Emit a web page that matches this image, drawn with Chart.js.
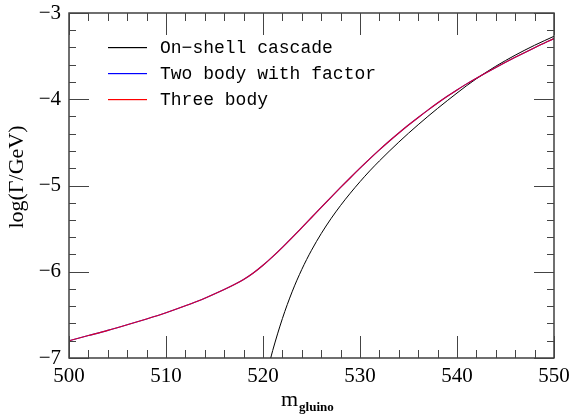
<!DOCTYPE html>
<html lang="en">
	<head>
		<meta charset="UTF-8" />
		<title>Gluino decay width</title>
		<script src="https://cdn.jsdelivr.net/npm/chart.js@4.4.3/dist/chart.umd.min.js"></script>
		<style>
			body {
				margin: 0;
				background: #fff;
			}
			.chartContainer {
				width: 572px;
				height: 415px;
			}
		</style>
	</head>
	<body>
		<div class="chartContainer">
			<canvas id="widthChart"></canvas>
		</div>

		<script>
			// gluino mass (GeV) and log10 of width
			const massShell = [520.75, 521, 522, 523, 524, 525, 526, 527, 528, 529, 530, 531, 532, 533, 534, 535, 536, 537, 538, 539, 540, 541, 542, 544, 546, 548, 550];
			const logShell = [-7.02, -6.913, -6.543, -6.233, -5.973, -5.751, -5.558, -5.386, -5.231, -5.089, -4.956, -4.831, -4.715, -4.604, -4.497, -4.394, -4.295, -4.199, -4.106, -4.016, -3.928, -3.842, -3.762, -3.617, -3.489, -3.374, -3.27];

			const massTwoBody = [500, 502, 504, 506, 508, 510, 512, 514, 516, 517, 518, 519, 520, 521, 522, 523, 524, 525, 526, 527, 528, 529, 530, 531, 532, 533, 534, 535, 536, 537, 538, 539, 540, 541, 542, 544, 546, 548, 550];
			const logTwoBody = [-6.8, -6.74, -6.68, -6.615, -6.547, -6.475, -6.395, -6.307, -6.207, -6.152, -6.09, -6.015, -5.925, -5.825, -5.717, -5.604, -5.488, -5.371, -5.254, -5.138, -5.023, -4.91, -4.799, -4.691, -4.587, -4.487, -4.391, -4.299, -4.211, -4.126, -4.044, -3.966, -3.892, -3.822, -3.756, -3.632, -3.514, -3.402, -3.296];

			const massThreeBody = [500, 502, 504, 506, 508, 510, 512, 514, 516, 517, 518, 519, 520, 521, 522, 523, 524, 525, 526, 527, 528, 529, 530, 531, 532, 533, 534, 535, 536, 537, 538, 539, 540, 541, 542, 544, 546, 548, 550];
			const logThreeBody = [-6.8, -6.74, -6.68, -6.615, -6.547, -6.475, -6.395, -6.307, -6.207, -6.152, -6.09, -6.015, -5.925, -5.825, -5.717, -5.604, -5.488, -5.371, -5.254, -5.138, -5.023, -4.91, -4.799, -4.691, -4.587, -4.487, -4.391, -4.299, -4.211, -4.126, -4.044, -3.966, -3.892, -3.822, -3.756, -3.632, -3.514, -3.402, -3.296];

			const seriesLabels = ["On\u2212shell cascade", "Two body with factor", "Three body"];
			const seriesColors = ["#000000", "#0000ff", "#ff0000"];
			const xTicks = [500, 510, 520, 530, 540, 550];
			const yTicks = [-7, -6, -5, -4, -3];
			const yTitle = "log(\u0393/GeV)";

			const toPoints = (xs, ys) => xs.map((v, i) => ({ x: v, y: ys[i] }));

			// frame with inward ticks, legend and axis titles
			const framePlugin = {
				id: "frame",
				afterDraw(chart) {
					const { ctx, chartArea: a, scales } = chart;
					const x = scales.x;
					const y = scales.y;
					ctx.save();
					ctx.strokeStyle = "#333";
					ctx.lineWidth = 1.4;
					ctx.strokeRect(a.left, a.top, a.right - a.left, a.bottom - a.top);

					ctx.strokeStyle = "#444";
					ctx.lineWidth = 1;
					ctx.beginPath();
					for (let i = 0; i <= 25; i++) {
						const v = 500 + i * 2;
						const px = Math.round(x.getPixelForValue(v)) + 0.5;
						const len = i % 5 === 0 ? 22 : 8;
						ctx.moveTo(px, a.bottom);
						ctx.lineTo(px, a.bottom - len);
						ctx.moveTo(px, a.top);
						ctx.lineTo(px, a.top + len);
					}
					for (let i = 0; i <= 20; i++) {
						const v = -7 + i * 0.2;
						const py = Math.round(y.getPixelForValue(v)) + 0.5;
						const len = i % 5 === 0 ? 20 : 7;
						ctx.moveTo(a.left, py);
						ctx.lineTo(a.left + len, py);
						ctx.moveTo(a.right, py);
						ctx.lineTo(a.right - len, py);
					}
					ctx.stroke();

					// legend
					ctx.font = "18px 'Liberation Mono'";
					ctx.textBaseline = "middle";
					seriesLabels.forEach((label, i) => {
						const ly = 47 + i * 26;
						ctx.fillStyle = seriesColors[i];
						ctx.fillRect(108, ly, 39, 1.2);
						ctx.fillStyle = "#000";
						ctx.fillText(label, 160, ly + 1);
					});

					// x title with subscript
					ctx.textBaseline = "alphabetic";
					ctx.font = "22px 'Liberation Serif'";
					ctx.fillText("m", 281, 406);
					const mw = ctx.measureText("m").width;
					ctx.font = "bold 13px 'Liberation Serif'";
					ctx.fillText("gluino", 282 + mw, 411);

					// y title
					ctx.translate(17, 177);
					ctx.rotate(-Math.PI / 2);
					ctx.textAlign = "center";
					ctx.textBaseline = "middle";
					ctx.font = "22px 'Liberation Serif'";
					ctx.fillText(yTitle, 0, 0);
					ctx.restore();
				},
			};

			const ctx = document.getElementById("widthChart").getContext("2d");
			const widthChart = new Chart(ctx, {
				type: "line",
				data: {
					datasets: [
						{
							label: seriesLabels[0],
							data: toPoints(massShell, logShell),
							borderColor: seriesColors[0],
							borderWidth: 1,
							pointRadius: 0,
							cubicInterpolationMode: "monotone",
							order: 3,
						},
						{
							label: seriesLabels[1],
							data: toPoints(massTwoBody, logTwoBody),
							borderColor: seriesColors[1],
							borderWidth: 1.1,
							pointRadius: 0,
							cubicInterpolationMode: "monotone",
							order: 2,
						},
						{
							label: seriesLabels[2],
							data: toPoints(massThreeBody, logThreeBody),
							borderColor: "rgba(255, 0, 0, 0.85)",
							borderWidth: 1.1,
							pointRadius: 0,
							cubicInterpolationMode: "monotone",
							order: 1,
						},
					],
				},
				options: {
					responsive: true,
					maintainAspectRatio: false,
					animation: false,
					layout: {
						padding: { left: 0, top: 13, right: 18, bottom: 0 },
					},
					plugins: {
						legend: { display: false },
						tooltip: { enabled: false },
					},
					scales: {
						x: {
							type: "linear",
							min: 500,
							max: 550,
							afterBuildTicks: (scale) => {
								scale.ticks = xTicks.map((v) => ({ value: v }));
							},
							afterFit: (scale) => {
								scale.height = 57;
								scale.paddingLeft = 0;
								scale.paddingRight = 0;
							},
							grid: { display: false, drawTicks: false },
							border: { display: false },
							ticks: {
								padding: 6,
								color: "#000",
								font: { family: "'Liberation Serif'", size: 21 },
							},
						},
						y: {
							min: -7,
							max: -3,
							afterBuildTicks: (scale) => {
								scale.ticks = yTicks.map((v) => ({ value: v }));
							},
							afterFit: (scale) => {
								scale.width = 69;
								scale.paddingTop = 0;
								scale.paddingBottom = 0;
							},
							grid: { display: false, drawTicks: false },
							border: { display: false },
							ticks: {
								padding: 8,
								color: "#000",
								font: { family: "'Liberation Serif'", size: 21 },
								callback: (v) => String(v).replace("-", "\u2212"),
							},
						},
					},
				},
				plugins: [framePlugin],
			});
		</script>
	</body>
</html>
